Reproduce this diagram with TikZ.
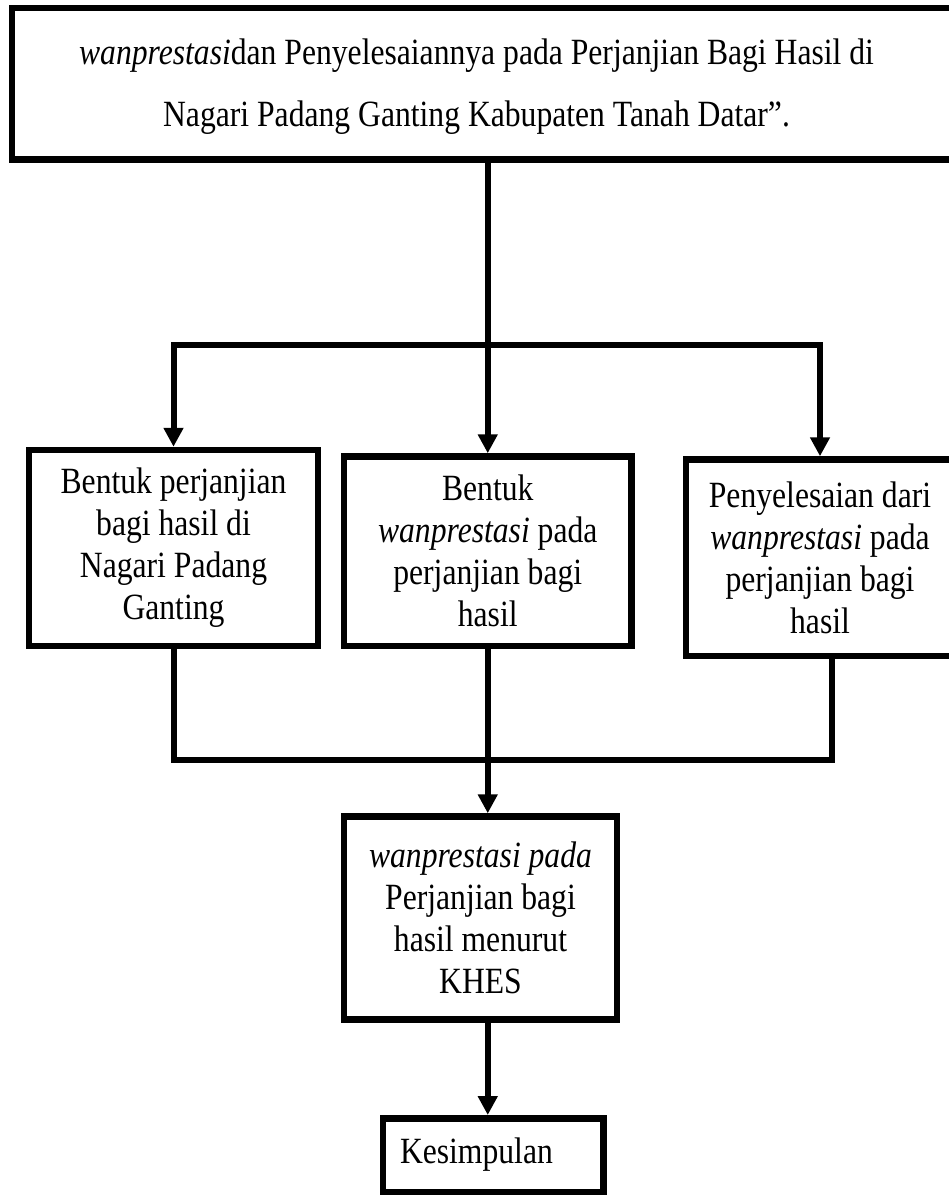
\documentclass[tikz,border=0pt]{standalone}
\usepackage{fontspec}
\setmainfont{Liberation Serif}[FakeStretch=0.855]
\usetikzlibrary{arrows.meta,positioning}
\tikzset{
  stepbox/.style={draw=black, line width=6.5pt, fill=white, inner sep=0pt, align=center, font=\fontsize{37}{42}\selectfont},
  flow/.style={-{Triangle[length=19pt,width=19pt]}, line width=6pt},
  link/.style={line width=6pt},
}
\begin{document}
\begin{tikzpicture}[x=1pt,y=-1pt]
  \useasboundingbox (0,0) rectangle (948,1198);
  \node[stepbox,minimum width=943pt,minimum height=151.5pt,font=\fontsize{37}{62}\selectfont](judul) at (483.5,83.75){\rule{0pt}{32pt}\textit{wanprestasi}dan Penyelesaiannya pada Perjanjian Bagi Hasil di\hspace*{14pt}\\Nagari Padang Ganting Kabupaten Tanah Datar''.\hspace*{14pt}};
  \node[stepbox,minimum width=289pt,minimum height=196pt](bentuk) at (173.5,548){Bentuk perjanjian\\bagi hasil di\\Nagari Padang\\Ganting};
  \node[stepbox,minimum width=287.5pt,minimum height=189.5pt](wanpres) at (487.75,551.25){Bentuk\\\textit{wanprestasi} pada\\perjanjian bagi\\hasil};
  \node[stepbox,minimum width=268pt,minimum height=196.5pt](selesai) at (820,557.75){Penyelesaian dari\\\textit{wanprestasi} pada\\perjanjian bagi\\hasil};
  \node[stepbox,minimum width=273pt,minimum height=203pt](khes) at (480.5,918){\textit{wanprestasi pada}\\Perjanjian bagi\\hasil menurut\\KHES};
  \node[stepbox,minimum width=220.5pt,minimum height=73.5pt,text width=186pt,align=left](simpul) at (493,1155){Kesimpulan};
  \coordinate (cabang) at (487,345);
  \coordinate (gabung) at (487,760);
  % branches
  \draw[flow] (judul.south -| wanpres.north) -- (wanpres.north);
  \draw[flow] (cabang) -| (bentuk.north);
  \draw[flow] (cabang) -| (selesai.north);
  % merge
  \draw[link] (bentuk.south) |- (gabung) -| ([xshift=12pt]selesai.south);
  \draw[flow] (wanpres.south) -- (khes.north -| wanpres.south);
  \draw[flow] (khes.south -| wanpres.south) -- (simpul.north -| wanpres.south);
\end{tikzpicture}
\end{document}
